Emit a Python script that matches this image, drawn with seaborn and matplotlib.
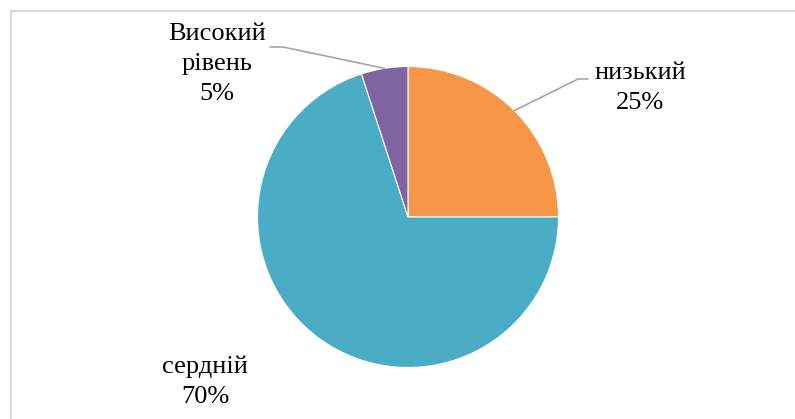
import numpy as np
import matplotlib
matplotlib.use("Agg")
import matplotlib.pyplot as plt
import seaborn as sns
from matplotlib.patches import Rectangle

# Data
labels = ["низький", "сердній", "Високий\nрівень"]
values = [25, 70, 5]
colors = ["#F79646", "#4BACC6", "#8064A2"]

sns.set_theme(style="white")
plt.rcParams['font.family'] = ['Liberation Serif', 'DejaVu Serif']

W, H = 795, 419
fig = plt.figure(figsize=(W / 100, H / 100), dpi=100)
fig.patch.set_facecolor("white")

# chart frame (cropped on the right and bottom)
fig.patches.append(Rectangle((11 / W, -0.1), 1.2, (H - 11) / H + 0.1,
                             transform=fig.transFigure, fill=False,
                             edgecolor="#D9D9D9", linewidth=1.5))

cx, cy, r = 408, 217, 150.5
ax = fig.add_axes([(cx - r) / W, (H - cy - r) / H, 2 * r / W, 2 * r / H])

wedges, _ = ax.pie(values, colors=colors, startangle=90, counterclock=False,
                   radius=1, wedgeprops=dict(edgecolor="white", linewidth=0.8))
ax.set_xlim(-1, 1)
ax.set_ylim(-1, 1)
ax.set_aspect("equal")
ax.axis("off")


def px(x, y):
    # figure pixel -> data coords of the pie axes
    return (x - cx) / r, (cy - y) / r


# label placement (pixel centers) and leader elbows
label_pos = [(640, 88), (205, 382), (217, 64)]
elbows = [[(588, 79), (578, 79)], None, [(270, 47), (283, 47)]]

for w, lab, v, pos, elb in zip(wedges, labels, values, label_pos, elbows):
    tx, ty = px(*pos)
    ax.text(tx, ty, f"{lab}\n{v}%", ha="center", va="center", fontsize=19,
            color="black", linespacing=1.45, clip_on=False)
    if elb is not None:
        ang = np.deg2rad((w.theta1 + w.theta2) / 2)
        pts = [px(*p) for p in elb] + [(np.cos(ang), np.sin(ang))]
        ax.plot([p[0] for p in pts], [p[1] for p in pts], color="#A6A6A6",
                lw=1.2, clip_on=False)

fig.savefig("out.png", dpi=100)
